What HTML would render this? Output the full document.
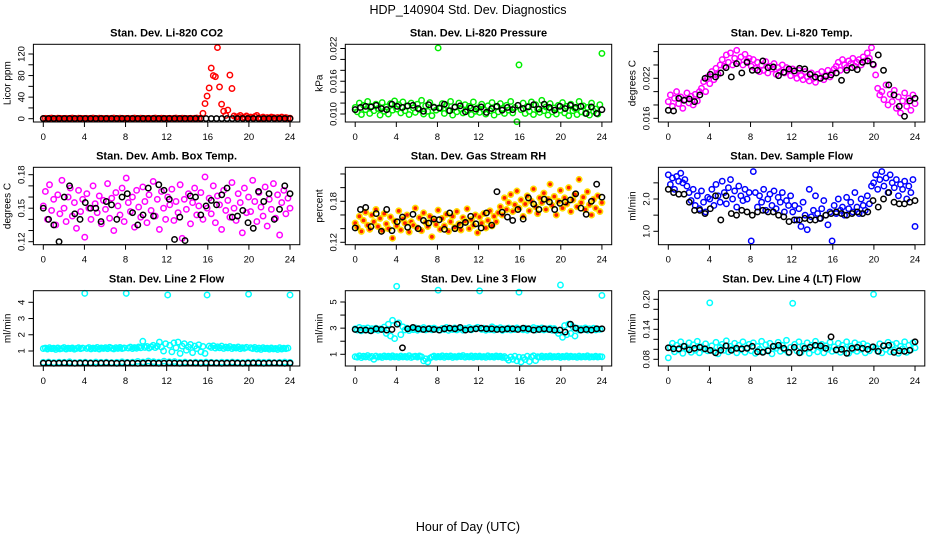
<!DOCTYPE html>
<html><head><meta charset="utf-8"><style>
html,body{margin:0;padding:0;background:#fff;}
svg{display:block;font-family:"Liberation Sans",sans-serif;}
</style></head><body>
<svg id="chart" width="936" height="540" viewBox="0 0 936 540">
<text x="468" y="14" text-anchor="middle" font-size="12.5">HDP_140904  Std. Dev. Diagnostics</text>
<text x="468" y="531" text-anchor="middle" font-size="12.5">Hour of Day (UTC)</text>
</svg>
<script>
const xTicks=[0,4,8,12,16,20,24];
const xTickLabels=["0","4","8","12","16","20","24"];

const co2Color=[0.4,0.8,0.3,0.6,1.2,0.5,0.3,0.9,0.6,0.4,0.4,0.8,0.3,0.6,1.2,0.5,0.3,0.9,0.6,0.4,0.4,0.8,0.3,0.6,1.2,0.5,0.3,0.9,0.6,0.4,0.4,0.8,0.3,0.6,1.2,0.5,0.3,0.9,0.6,0.4,0.4,0.8,0.3,0.6,1.2,0.5,0.3,0.9,0.6,0.4,0.4,0.8,0.3,0.6,1.2,0.5,0.3,0.9,0.6,0.4,0.4,0.8,0.3,0.6,1.2,0.5,0.3,0.9,0.6,0.4,0.4,0.8,0.3,0.6,1.2,0.5,0.3,
10,28,42,57,94,80,78,132,59,27,14,6,16,81,56,5,3,4,6,2,3,5,2,3,2,4,6,2,1,3,1,2,1,3,2,1,2,1,3,1,2,1,1];
const co2Black=[0.3,0.3,0.3,0.3,0.3,0.3,0.3,0.3,0.3,0.3,0.3,0.3,0.3,0.3,0.3,0.3,0.3,0.3,0.3,0.3,0.3,0.3,0.3,0.3,0.3,0.3,0.3,0.3,0.3,0.3,0.3,0.3,0.3,0.3,0.3,0.3,0.3,0.3,0.3,0.3,0.3,0.3,0.3,0.3,0.3,0.3,0.3,0.3];

const presColor=[0.0112,0.0104,0.0120,0.0099,0.0116,0.0108,0.0123,0.0101,0.0114,0.0106,0.0118,0.0110,0.0098,0.0121,0.0105,0.0113,0.0100,0.0119,0.0107,0.0124,
0.0109,0.0117,0.0102,0.0122,0.0106,0.0114,0.0099,0.0120,0.0111,0.0103,0.0118,0.0108,0.0125,0.0100,0.0115,0.0105,0.0121,0.0097,0.0113,0.0107,
0.0221,0.0110,0.0119,0.0101,0.0116,0.0106,0.0123,0.0098,0.0112,0.0104,0.0120,0.0109,0.0102,0.0117,0.0107,0.0114,0.0099,0.0122,0.0105,0.0111,
0.0103,0.0118,0.0108,0.0100,0.0115,0.0106,0.0121,0.0098,0.0113,0.0104,0.0119,0.0110,0.0101,0.0116,0.0107,0.0123,0.0102,0.0112,0.0086,0.0190,
0.0108,0.0120,0.0101,0.0114,0.0105,0.0122,0.0099,0.0117,0.0109,0.0103,0.0125,0.0106,0.0113,0.0098,0.0119,0.0104,0.0111,0.0100,0.0116,0.0107,
0.0121,0.0102,0.0114,0.0097,0.0118,0.0106,0.0110,0.0099,0.0123,0.0104,0.0115,0.0101,0.0112,0.0098,0.0120,0.0105,0.0109,0.0100,0.0117,0.0211];
const presBlack=[0.0108,0.0112,0.0114,0.0113,0.0116,0.0110,0.0108,0.0118,0.0114,0.0112,0.0115,0.0116,0.0110,0.0105,0.0117,0.0112,0.0111,0.0118,0.0106,0.0113,0.0115,0.0104,0.0111,0.0109,0.0113,0.0103,0.0110,0.0114,0.0107,0.0112,0.0108,0.0116,0.0110,0.0113,0.0117,0.0109,0.0118,0.0112,0.0107,0.0114,0.0110,0.0116,0.0112,0.0114,0.0101,0.0113,0.0101,0.0108];

const tempColor=[0.0185,0.0195,0.0178,0.0190,0.0200,0.0182,0.0192,0.0175,0.0188,0.0198,0.0183,0.0193,0.0180,0.0196,0.0186,0.0200,
0.0205,0.0215,0.0200,0.0222,0.0212,0.0230,0.0218,0.0235,0.0226,0.0240,
0.0248,0.0238,0.0255,0.0244,0.0258,0.0240,0.0250,0.0262,0.0245,0.0252,0.0240,0.0256,0.0246,0.0250,0.0238,
0.0248,0.0235,0.0244,0.0230,0.0240,0.0232,0.0245,0.0228,0.0238,0.0234,0.0242,0.0226,0.0236,0.0230,0.0240,0.0228,0.0236,0.0232,0.0224,0.0234,
0.0228,0.0220,0.0232,0.0224,0.0218,0.0230,0.0222,0.0216,0.0228,0.0220,0.0214,0.0226,0.0220,0.0230,0.0218,0.0224,0.0232,0.0222,0.0228,0.0234,
0.0238,0.0244,0.0232,0.0248,0.0240,0.0236,0.0246,0.0242,0.0250,0.0238,0.0244,0.0248,0.0240,0.0252,0.0246,0.0258,0.0250,
0.0266,0.0240,0.0225,0.0205,0.0195,
0.0200,0.0188,0.0210,0.0180,0.0196,0.0185,0.0202,0.0175,0.0192,0.0168,0.0186,0.0198,0.0178,0.0190,0.0172,0.0195,0.0182];
const tempBlack=[0.0172,0.0171,0.0190,0.0187,0.0189,0.0185,0.0195,0.0220,0.0226,0.0222,0.0228,0.0236,0.0222,0.0242,0.0228,0.0244,0.0232,0.0232,0.0246,0.0236,0.0237,0.0224,0.0229,0.0234,0.0231,0.0235,0.0234,0.0226,0.0222,0.0220,0.0223,0.0225,0.0228,0.0217,0.0232,0.0236,0.0233,0.0244,0.0246,0.0241,0.0255,0.0232,0.0210,0.0195,0.0178,0.0163,0.0186,0.0190];

const boxColor=[0.152,0.165,0.140,0.171,0.148,0.158,0.135,0.162,0.145,0.175,0.150,0.138,0.160,0.168,0.143,0.155,0.132,0.166,0.147,0.158,
0.124,0.163,0.150,0.140,0.170,0.154,0.146,0.161,0.136,0.157,0.149,0.172,0.141,0.159,0.130,0.164,0.152,0.144,0.168,0.138,
0.177,0.155,0.147,0.160,0.133,0.166,0.151,0.142,0.169,0.156,0.137,0.162,0.148,0.174,0.143,0.158,0.131,0.165,0.150,0.140,
0.160,0.153,0.167,0.139,0.156,0.146,0.171,0.123,0.158,0.149,0.163,0.136,0.155,0.168,0.144,0.152,0.164,0.140,0.178,0.150,
0.159,0.145,0.170,0.137,0.161,0.153,0.131,0.166,0.148,0.157,0.142,0.173,0.150,0.139,0.163,0.155,0.128,0.168,0.146,0.160,
0.147,0.175,0.156,0.138,0.164,0.151,0.143,0.169,0.134,0.158,0.149,0.172,0.141,0.162,0.126,0.155,0.166,0.145,0.159,0.150];
const boxBlack=[0.150,0.140,0.135,0.120,0.160,0.170,0.145,0.140,0.155,0.150,0.150,0.138,0.156,0.153,0.140,0.160,0.163,0.146,0.135,0.144,0.168,0.143,0.171,0.166,0.158,0.122,0.142,0.121,0.161,0.160,0.144,0.152,0.157,0.153,0.162,0.168,0.142,0.143,0.148,0.137,0.132,0.165,0.156,0.163,0.140,0.149,0.170,0.163];

const rhColor=[0.148,0.142,0.158,0.136,0.152,0.164,0.145,0.139,0.160,0.150,0.168,0.143,0.155,0.137,0.162,0.147,0.140,0.157,0.126,0.151,
0.144,0.166,0.138,0.154,0.148,0.160,0.135,0.150,0.145,0.170,0.141,0.156,0.137,0.163,0.149,0.143,0.158,0.128,0.152,0.146,
0.167,0.139,0.155,0.144,0.161,0.136,0.150,0.158,0.142,0.165,0.147,0.138,0.156,0.151,0.169,0.140,0.153,0.145,0.160,0.134,
0.157,0.148,0.162,0.141,0.152,0.166,0.144,0.158,0.150,0.163,
0.172,0.160,0.185,0.168,0.178,0.190,0.165,0.175,0.195,0.170,0.182,0.158,0.176,0.188,0.166,0.180,0.198,0.172,0.162,0.185,
0.178,0.192,0.168,0.183,0.205,0.174,0.187,0.160,0.180,0.196,0.170,0.185,0.176,0.200,0.165,0.182,0.190,0.172,0.212,0.178,
0.186,0.168,0.194,0.175,0.160,0.183,0.170,0.188,0.165,0.178];
const rhBlack=[0.141,0.168,0.171,0.143,0.162,0.136,0.168,0.137,0.150,0.157,0.142,0.161,0.140,0.152,0.148,0.154,0.153,0.139,0.163,0.140,
0.145,0.149,0.158,0.147,0.141,0.163,0.145,0.194,0.164,0.157,0.152,0.168,0.154,0.185,0.176,0.168,0.183,0.179,0.168,0.177,
0.179,0.182,0.191,0.170,0.161,0.180,0.205,0.186];

const flowColor=[2.75,2.45,2.65,2.3,2.7,2.55,2.8,2.5,2.6,2.4,
2.2,1.95,2.3,1.8,2.1,1.7,2.25,1.9,1.6,2.05,
2.0,2.3,1.8,2.45,2.1,1.9,2.55,2.2,1.85,2.35,2.6,2.0,2.25,1.75,2.4,2.1,1.95,2.3,2.0,2.2,
0.7,2.85,2.2,1.75,2.1,1.9,2.3,1.65,2.0,2.15,1.8,2.25,1.7,2.05,1.9,2.2,1.6,1.95,1.8,2.1,
1.6,1.8,1.35,1.7,1.15,1.9,1.5,1.05,2.3,1.45,1.65,2.1,1.55,1.4,1.7,1.95,1.5,1.2,1.6,
0.7,1.8,1.55,2.0,1.65,1.75,1.5,2.05,1.7,1.9,1.6,2.2,1.75,1.55,2.0,1.8,1.65,2.1,1.85,2.4,
2.5,2.75,2.3,2.6,2.85,2.4,2.65,2.2,2.75,2.5,2.35,2.6,2.1,2.45,2.3,2.55,2.0,2.4,2.2,2.6,1.15];
const flowBlack=[2.3,2.2,2.15,2.15,1.9,1.65,1.65,1.55,1.7,2.1,1.35,2.1,1.55,1.5,1.65,1.6,1.5,1.6,1.65,1.6,1.6,1.5,1.45,1.3,1.35,1.35,1.4,1.35,1.35,1.4,1.5,1.55,1.6,1.55,1.5,1.55,1.6,1.55,1.6,1.95,1.75,2.0,2.2,1.9,1.85,1.85,1.9,1.95];

const line2High=[1.15,1.18,1.12,1.2,1.14,1.17,1.1,1.19,1.13,1.16,1.21,1.12,1.17,1.15,1.19,1.11,1.16,1.2,1.14,1.18,
4.55,1.16,1.21,1.13,1.18,1.15,1.22,1.12,1.19,1.16,1.2,1.14,1.23,1.17,1.13,1.2,1.16,1.22,1.15,1.19,
4.55,1.18,1.24,1.15,1.21,1.17,1.25,1.2,1.6,1.22,1.28,1.18,1.26,1.35,1.21,1.3,1.55,1.24,1.0,1.45,
4.45,1.35,0.95,1.5,1.2,1.55,0.85,1.3,1.45,1.05,1.25,1.4,0.9,1.3,1.15,1.38,0.95,1.28,0.85,4.45,
1.3,1.22,1.32,1.18,1.26,1.2,1.3,1.16,1.24,1.19,1.27,1.15,1.22,1.18,1.25,1.14,1.2,1.17,1.23,4.5,
1.2,1.15,1.22,1.12,1.18,1.1,1.2,1.14,1.17,1.11,1.19,1.13,1.16,1.1,1.2,1.12,1.17,1.14,1.18,4.45];
const line2Low=[0.3,0.32,0.29,0.31,0.3,0.33,0.28,0.3,0.31,0.29,0.32,0.3,0.31,0.29,0.3,0.33,0.3,0.31,0.36,0.32,0.38,0.34,0.31,0.37,0.33,0.35,0.3,0.32,0.29,0.31,0.3,0.32,0.3,0.29,0.31,0.3,0.32,0.3,0.29,0.31,0.3,0.32,0.3,0.31,0.29,0.3,0.32,0.3];
const line2Black=[0.25,0.26,0.24,0.25,0.26,0.25,0.24,0.25,0.26,0.25,0.24,0.25,0.26,0.25,0.24,0.25,0.26,0.25,0.24,0.25,0.26,0.25,0.24,0.25,0.26,0.25,0.24,0.25,0.26,0.25,0.24,0.25,0.26,0.25,0.24,0.25,0.26,0.25,0.24,0.25,0.26,0.25,0.24,0.25,0.26,0.25,0.24,0.25];

const line3High=[2.95,2.85,3.05,2.8,2.98,2.9,3.02,2.82,2.96,2.88,3.0,2.84,2.94,2.9,3.08,2.6,3.3,2.4,3.6,2.2,
6.2,3.4,2.5,3.1,2.86,3.0,2.82,2.95,2.88,3.02,2.84,2.97,2.9,3.04,2.86,2.93,2.99,2.87,3.01,2.92,
5.9,2.85,2.98,2.9,3.05,2.83,2.96,2.89,3.02,2.86,2.94,3.0,2.84,2.97,2.9,3.04,2.87,2.95,2.99,3.06,
5.85,2.9,3.0,2.84,2.96,2.88,3.1,2.85,2.98,2.92,3.03,2.83,2.95,2.9,3.01,2.86,2.97,2.89,3.02,5.75,
2.93,2.87,3.0,2.84,2.96,2.9,3.04,2.85,2.98,2.88,3.02,2.86,2.95,2.9,3.0,2.84,2.97,2.8,2.6,6.3,
2.3,3.2,2.5,3.3,2.6,3.1,2.4,3.0,2.85,2.96,2.88,3.02,2.84,2.95,2.9,3.0,2.86,2.94,2.9,5.5];
const line3Low=[0.82,0.78,0.88,0.75,0.85,0.8,0.9,0.77,0.84,0.62,0.86,0.79,0.83,0.76,0.87,0.81,0.85,0.78,0.88,0.8,
0.83,0.77,0.86,0.8,0.84,0.78,0.89,0.76,0.82,0.85,0.79,0.87,0.81,0.5,0.65,0.42,0.7,0.8,0.86,0.78,
0.84,0.8,0.88,0.77,0.85,0.81,0.87,0.76,0.83,0.79,0.86,0.82,0.9,0.78,0.84,0.8,0.87,0.77,0.85,0.81,
0.86,0.79,0.83,0.77,0.88,0.8,0.84,0.78,0.87,0.81,0.85,0.76,0.83,0.7,0.55,0.8,0.62,0.85,0.5,0.78,
0.42,0.75,0.6,0.85,0.45,0.8,0.88,0.52,0.82,0.79,0.86,0.77,0.84,0.8,0.87,0.78,0.83,0.81,0.85,0.76,
0.84,0.8,0.87,0.78,0.85,0.81,0.83,0.77,0.86,0.79,0.84,0.8,0.88,0.78,0.82,0.8,0.85,0.79,0.83,0.81];
const line3Black=[2.9,2.85,2.85,2.8,2.95,2.9,2.85,2.9,3.3,1.5,2.95,3.05,2.95,2.9,2.95,2.9,2.85,2.95,3.0,2.95,3.05,2.85,2.9,2.95,3.0,2.95,2.95,2.9,2.9,2.95,2.95,2.9,3.0,2.95,2.85,2.9,2.95,2.9,2.85,2.85,2.7,3.3,3.0,2.85,2.9,2.85,2.95,2.95];

const line4Color=[0.083,0.104,0.112,0.095,0.108,0.099,0.115,0.092,0.106,0.101,0.113,0.094,0.109,0.098,0.116,0.093,0.105,0.1,0.111,0.097,
0.193,0.107,0.096,0.114,0.091,0.104,0.11,0.098,0.117,0.095,0.106,0.101,0.112,0.093,0.108,0.099,0.115,0.094,0.103,0.11,
0.097,0.113,0.092,0.106,0.1,0.116,0.095,0.109,0.098,0.112,0.091,0.105,0.102,0.114,0.096,0.108,0.099,0.118,0.093,0.104,
0.192,0.11,0.097,0.115,0.094,0.106,0.101,0.113,0.092,0.108,0.099,0.116,0.095,0.104,0.11,0.093,0.107,0.1,0.114,0.096,
0.105,0.098,0.112,0.094,0.108,0.101,0.115,0.092,0.106,0.099,0.113,0.096,0.109,0.1,0.111,0.093,0.107,0.097,0.104,0.21,
0.102,0.096,0.111,0.093,0.107,0.1,0.114,0.095,0.109,0.098,0.112,0.092,0.106,0.101,0.115,0.094,0.108,0.099,0.113,0.103];
const line4Black=[0.103,0.101,0.101,0.106,0.099,0.102,0.104,0.101,0.098,0.093,0.098,0.107,0.098,0.102,0.101,0.102,0.106,0.095,0.094,0.097,0.106,0.108,0.102,0.094,0.104,0.093,0.102,0.104,0.108,0.107,0.102,0.125,0.099,0.1,0.092,0.102,0.104,0.102,0.1,0.105,0.096,0.107,0.108,0.094,0.097,0.096,0.098,0.115];

const panels=[
 {name:"co2",title:"Stan. Dev. Li-820 CO2",ylab:"Licor ppm",col:0,row:0,yref:[0,118.7,120,54],yticks:[0,20,40,60,80,100,120],ylabels:["0","","40","","80","","120"],series:[[co2Color,"#ff0000"],[co2Black,"#000"]]},
 {name:"pressure",title:"Stan. Dev. Li-820 Pressure",ylab:"kPa",col:1,row:0,yref:[0.010,114,0.022,48.5],yticks:[0.010,0.012,0.014,0.016,0.018,0.020,0.022],ylabels:["0.010","","","0.016","","","0.022"],series:[[presColor,"#00ee00"],[presBlack,"#000"]]},
 {name:"temp",title:"Stan. Dev. Li-820 Temp.",ylab:"degrees C",col:2,row:0,yref:[0.016,118.3,0.022,78.3],yticks:[0.016,0.018,0.020,0.022,0.024,0.026],ylabels:["0.016","","","0.022","",""],series:[[tempColor,"#ff00ff"],[tempBlack,"#000"]]},
 {name:"box-temp",title:"Stan. Dev. Amb. Box Temp.",ylab:"degrees C",col:0,row:1,yref:[0.12,241.7,0.18,174.7],yticks:[0.12,0.13,0.14,0.15,0.16,0.17,0.18],ylabels:["0.12","","","0.15","","","0.18"],series:[[boxColor,"#ff00ff"],[boxBlack,"#000"]]},
 {name:"rh",title:"Stan. Dev. Gas Stream RH",ylab:"percent",col:1,row:1,yref:[0.12,242.3,0.18,201.3],yticks:[0.12,0.14,0.16,0.18,0.20,0.22],ylabels:["0.12","","","0.18","",""],series:[[rhColor,"rh"],[rhBlack,"#000"]]},
 {name:"sample-flow",title:"Stan. Dev. Sample Flow",ylab:"ml/min",col:2,row:1,yref:[1.0,231.3,2.0,199],yticks:[1.0,1.5,2.0,2.5],ylabels:["1.0","","2.0",""],series:[[flowColor,"#0000ff"],[flowBlack,"#000"]]},
 {name:"line2",title:"Stan. Dev. Line 2 Flow",ylab:"ml/min",col:0,row:2,yref:[1,351,4,302.3],yticks:[1,2,3,4],ylabels:["1","2","3","4"],series:[[line2High,"#00ffff"],[line2Low,"#00ffff"],[line2Black,"#000"]]},
 {name:"line3",title:"Stan. Dev. Line 3 Flow",ylab:"ml/min",col:1,row:2,yref:[1,354.3,5,302],yticks:[1,2,3,4,5],ylabels:["1","","3","","5"],series:[[line3High,"#00ffff"],[line3Low,"#00ffff"],[line3Black,"#000"]]},
 {name:"line4",title:"Stan. Dev. Line 4 (LT) Flow",ylab:"ml/min",col:2,row:2,yref:[0.08,359.3,0.20,299.3],yticks:[0.08,0.10,0.12,0.14,0.16,0.18,0.20],ylabels:["0.08","","","0.14","","","0.20"],series:[[line4Color,"#00ffff"],[line4Black,"#000"]]}
];

const NS="http://www.w3.org/2000/svg";
const svg=document.getElementById("chart");
const colLeft=[33.4,345.3,658.4];
const boxW=266.4;
const rowTop=[44.3,167.3,290.7];
const rowBot=[122,244.7,366];
function mk(tag,attrs,parent){const e=document.createElementNS(NS,tag);for(const k in attrs)e.setAttribute(k,attrs[k]);parent.appendChild(e);return e;}

panels.forEach(p=>{
  const L=colLeft[p.col],T=rowTop[p.row],B=rowBot[p.row],R=L+boxW;
  const xScale=t=>L+9.9+t*10.28;
  const [v1,p1,v2,p2]=p.yref;
  const yScale=v=>p1+(v-v1)*(p2-p1)/(v2-v1);
  const g=mk("g",{},svg);
  
  
  const ttl=mk("text",{x:(L+R)/2,y:T-8,"text-anchor":"middle","font-size":"11","font-weight":"bold"},g);
  ttl.textContent=p.title;
  
  
  const yl=mk("text",{x:0,y:0,"text-anchor":"middle","font-size":"10",transform:`translate(${L-23},${(T+B)/2}) rotate(-90)`},g);
  yl.textContent=p.ylab;
  
  
  const pg=mk("g",{},g);
  
  
  p.series.forEach(([arr,color])=>{
    const n=arr.length;
    arr.forEach((v,i)=>{
      const t=i*24/(n-1);
      const cx=xScale(t),cy=yScale(v);
      if(color==="rh"){
        const c=mk("circle",{cx:cx,cy:cy,r:2.7,fill:"#ff2000",stroke:"#ffdd00","stroke-width":1.6},pg);
        
        
      } else {
        const c=mk("circle",{cx:cx,cy:cy,r:2.7,fill:"none",stroke:color,"stroke-width":1.5},pg);
        
        
      }
    });
  });
  const box=mk("rect",{x:L,y:T,width:boxW,height:B-T,fill:"none",stroke:"#000","stroke-width":1},g);
  
  
  mk("line",{x1:xScale(0),x2:xScale(24),y1:B,y2:B,stroke:"#000"},g);
  xTicks.forEach((t,k)=>{
    mk("line",{x1:xScale(t),x2:xScale(t),y1:B,y2:B+5,stroke:"#000"},g);
    const tl=mk("text",{x:xScale(t),y:B+18,"text-anchor":"middle","font-size":"9.5"},g);
    tl.textContent=xTickLabels[k];
    
    
  });
  mk("line",{x1:L,x2:L,y1:yScale(p.yticks[0]),y2:yScale(p.yticks[p.yticks.length-1]),stroke:"#000"},g);
  p.yticks.forEach((v,k)=>{
    const y=yScale(v);
    mk("line",{x1:L-5,x2:L,y1:y,y2:y,stroke:"#000"},g);
    if(p.ylabels[k]){
      const tl=mk("text",{x:0,y:0,"text-anchor":"middle","font-size":"9.5",transform:`translate(${L-9},${y}) rotate(-90)`},g);
      tl.textContent=p.ylabels[k];
      
      
    }
  });
});
</script>
</body></html>
